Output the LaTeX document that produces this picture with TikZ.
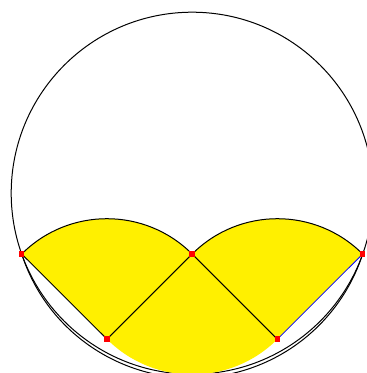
\documentclass[tikz,border=0pt]{standalone}
\definecolor{fillyellow}{RGB}{255,240,0}
\tikzset{
  edge/.style={line width=1pt, black},
  blueedge/.style={line width=0.8pt, blue},
  fillsector/.style={fill=fillyellow},
  pt/.style={rectangle, fill=red, inner sep=0pt, minimum size=5.5pt}
}
\begin{document}
\begin{tikzpicture}[x=1pt,y=1pt]
\useasboundingbox (0,0) rectangle (367,373);
\clip (0,0) rectangle (367,373);
% key positions
\coordinate (O) at (192.2,179.8);
\coordinate (Lp) at (21.7,119);
\coordinate (Rp) at (362.7,119);
\coordinate (Cp) at (192.2,119);
\coordinate (BLp) at (107,33.8);
\coordinate (BRp) at (277.4,33.8);
% big circle and outer arc
\draw[edge] (O) circle[radius=181];
\draw[edge] (Lp) arc[start angle=197.94, end angle=342.06, radius=179.2];
% yellow sectors
\fill[fillsector] (BLp) -- (Lp) arc[start angle=135, end angle=45, radius=120.5] -- cycle;
\fill[fillsector] (BRp) -- (Cp) arc[start angle=135, end angle=45, radius=120.5] -- cycle;
\fill[fillsector] (Cp) -- (BLp) arc[start angle=225, end angle=315, radius=120.5] -- cycle;
% outlines
\draw[edge] (Lp) arc[start angle=135, end angle=45, radius=120.5];
\draw[edge] (Cp) arc[start angle=135, end angle=45, radius=120.5];
% points
\node[pt] (L) at (Lp) {};
\node[pt] (R) at (Rp) {};
\node[pt] (C) at (Cp) {};
\node[pt] (BL) at (BLp) {};
\node[pt] (BR) at (BRp) {};
\draw[edge] (L.center) -- (BL.center);
\draw[edge] (BL.center) -- (C.center);
\draw[edge] (C.center) -- (BR.center);
\draw[blueedge] (BR.center) -- (R.center);
% redraw points on top
\node[pt] at (Lp) {};
\node[pt] at (Rp) {};
\node[pt] at (Cp) {};
\node[pt] at (BLp) {};
\node[pt] at (BRp) {};
\end{tikzpicture}
\end{document}
